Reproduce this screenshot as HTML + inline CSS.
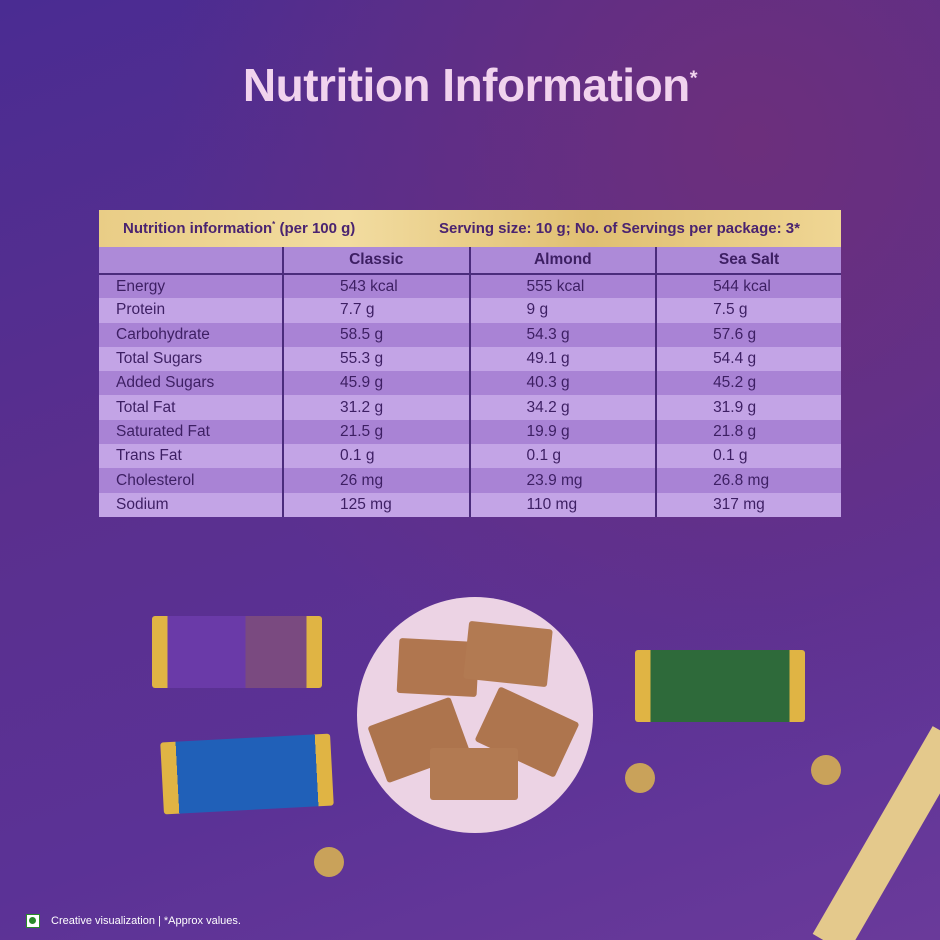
<!DOCTYPE html>
<html><head><style>
html,body{margin:0;width:940px;height:940px;overflow:hidden;font-family:"Liberation Sans",sans-serif;}
#bg{position:absolute;left:0;top:0;width:940px;height:940px;background:radial-gradient(ellipse at 80% 15%,#6c2f7c 0%,rgba(108,47,124,0) 55%),linear-gradient(160deg,#4a2c92 0%,#5a2f8e 40%,#5b3296 70%,#6a3a9a 100%);overflow:hidden}
h1{position:absolute;left:0;width:940px;top:58px;margin:0;text-align:center;font-size:46px;font-weight:bold;color:#f1d3ee;letter-spacing:-0.5px}
.gold{position:absolute;left:99px;top:210px;width:742px;height:37px;background:linear-gradient(90deg,#e9cd86,#f2dca0,#e0bf72,#efd694);color:#4a2370;font-weight:bold;font-size:15px;}
table{position:absolute;left:99px;top:247px;width:742px;border-collapse:collapse;font-size:15.5px;color:#3d1f63}
tr{height:24.3px}
td{border-left:2px solid #4b2c7c;border-right:2px solid #4b2c7c;padding:0 0 0 17px;line-height:22px}
tr.h{height:27px}
tr.h td{background:#ad8ad8;font-weight:bold;text-align:center;padding:0;border-bottom:2px solid #4b2c7c}
tr td:first-child{border-left:none}tr td:last-child{border-right:none}
tr:nth-child(even) td{background:#a983d5}
tr:nth-child(odd):not(.h) td{background:#c3a4e6}
td.v{padding-left:56px}
.bar{position:absolute;border-radius:3px}
</style></head><body>
<div id="bg">
<h1>Nutrition Information<sup style="font-size:20px">*</sup></h1>
<div class="gold"><span style="position:absolute;left:24px;top:10px">Nutrition information<sup style="font-size:8px">*</sup> (per 100 g)</span><span style="position:absolute;left:340px;top:10px">Serving size: 10 g; No. of Servings per package: 3*</span></div>
<table>
<tr class="h"><td style="width:183px"></td><td>Classic</td><td>Almond</td><td>Sea Salt</td></tr>
<tr><td>Energy</td><td class="v">543 kcal</td><td class="v">555 kcal</td><td class="v">544 kcal</td></tr>
<tr><td>Protein</td><td class="v">7.7 g</td><td class="v">9 g</td><td class="v">7.5 g</td></tr>
<tr><td>Carbohydrate</td><td class="v">58.5 g</td><td class="v">54.3 g</td><td class="v">57.6 g</td></tr>
<tr><td>Total Sugars</td><td class="v">55.3 g</td><td class="v">49.1 g</td><td class="v">54.4 g</td></tr>
<tr><td>Added Sugars</td><td class="v">45.9 g</td><td class="v">40.3 g</td><td class="v">45.2 g</td></tr>
<tr><td>Total Fat</td><td class="v">31.2 g</td><td class="v">34.2 g</td><td class="v">31.9 g</td></tr>
<tr><td>Saturated Fat</td><td class="v">21.5 g</td><td class="v">19.9 g</td><td class="v">21.8 g</td></tr>
<tr><td>Trans Fat</td><td class="v">0.1 g</td><td class="v">0.1 g</td><td class="v">0.1 g</td></tr>
<tr><td>Cholesterol</td><td class="v">26 mg</td><td class="v">23.9 mg</td><td class="v">26.8 mg</td></tr>
<tr><td>Sodium</td><td class="v">125 mg</td><td class="v">110 mg</td><td class="v">317 mg</td></tr>
</table>
<div style="position:absolute;left:357px;top:597px;width:236px;height:236px;border-radius:50%;background:#ecd3e4"></div>
<div class="bar" style="left:398px;top:640px;width:80px;height:55px;background:#b0764f;transform:rotate(3deg)"></div>
<div class="bar" style="left:466px;top:625px;width:84px;height:58px;background:#b27a52;transform:rotate(6deg)"></div>
<div class="bar" style="left:375px;top:710px;width:88px;height:60px;background:#ad744d;transform:rotate(-20deg)"></div>
<div class="bar" style="left:483px;top:702px;width:88px;height:60px;background:#ae754e;transform:rotate(25deg)"></div>
<div class="bar" style="left:430px;top:748px;width:88px;height:52px;background:#b27a52"></div>
<div class="bar" style="left:152px;top:616px;width:170px;height:72px;background:linear-gradient(90deg,#e0b444 0 9%,#6a3aa8 9% 55%,#7a4a80 55% 91%,#e0b444 91%)"></div>
<div class="bar" style="left:162px;top:738px;width:170px;height:72px;background:linear-gradient(90deg,#e0b444 0 9%,#2060b8 9% 91%,#e0b444 91%);transform:rotate(-3deg)"></div>
<div class="bar" style="left:635px;top:650px;width:170px;height:72px;background:linear-gradient(90deg,#e0b444 0 9%,#2e6a3a 9% 91%,#e0b444 91%)"></div>
<div style="position:absolute;left:625px;top:763px;width:30px;height:30px;border-radius:50%;background:#c9a25a"></div>
<div style="position:absolute;left:811px;top:755px;width:30px;height:30px;border-radius:50%;background:#c9a25a"></div>
<div style="position:absolute;left:314px;top:847px;width:30px;height:30px;border-radius:50%;background:#c9a25a"></div>
<div style="position:absolute;left:870px;top:720px;width:40px;height:240px;background:#e4c98c;transform:rotate(30deg)"></div>
<div style="position:absolute;left:26px;top:914px;width:12px;height:12px;border:1px solid #2a8a2a;background:#fff"></div>
<div style="position:absolute;left:29px;top:917px;width:7px;height:7px;border-radius:50%;background:#2a8a2a"></div>
<div style="position:absolute;left:51px;top:915px;font-size:11px;color:#fff">Creative visualization | *Approx values.</div>
</div>
</body></html>
